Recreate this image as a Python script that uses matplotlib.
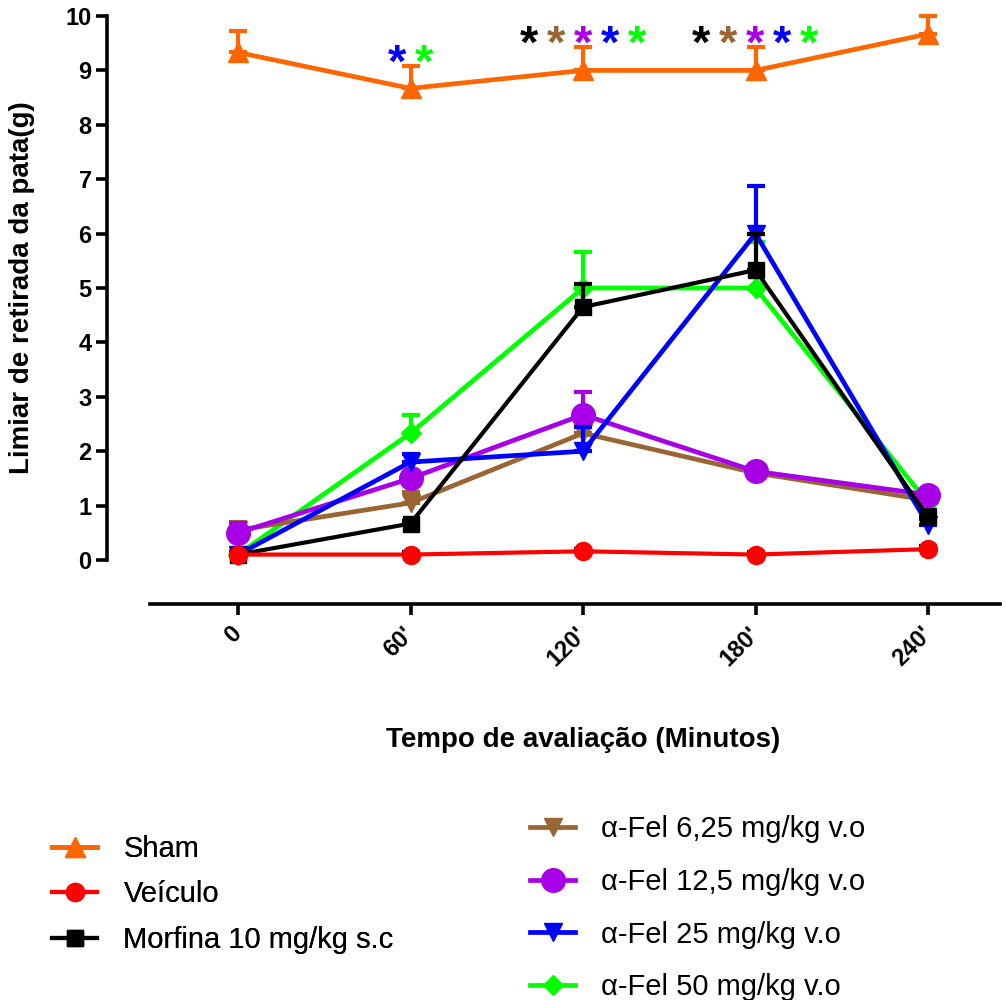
import matplotlib
matplotlib.use("Agg")
import matplotlib.pyplot as plt
import numpy as np

plt.rcParams['font.family'] = ['Liberation Sans', 'DejaVu Sans']

# tempos de avaliacao (minutos)
times = [0, 60, 120, 180, 240]
tick_labels = ["0", "60'", "120'", "180'", "240'"]

# medias e erro (so a parte de cima)
sham = [9.33, 8.67, 9.0, 9.0, 9.67]
sham_err = [0.40, 0.41, 0.43, 0.43, 0.33]
veiculo = [0.10, 0.10, 0.16, 0.10, 0.20]
veiculo_err = [0.05, 0.05, 0.05, 0.05, 0.05]
morfina = [0.10, 0.67, 4.65, 5.33, 0.79]
morfina_err = [0.05, 0.05, 0.42, 0.67, 0.12]
fel_625 = [0.55, 1.05, 2.33, 1.60, 1.10]
fel_625_err = [0.15, 0.20, 0.33, 0.10, 0.08]
fel_125 = [0.50, 1.50, 2.67, 1.63, 1.20]
fel_125_err = [0.18, 0.10, 0.42, 0.08, 0.05]
fel_25 = [0.10, 1.80, 2.00, 6.00, 0.65]
fel_25_err = [0.05, 0.15, 0.45, 0.88, 0.10]
fel_50 = [0.10, 2.33, 5.00, 5.00, 1.05]
fel_50_err = [0.05, 0.33, 0.67, 0.85, 0.08]

names = ["Sham", "Veículo", "Morfina 10 mg/kg s.c",
         "α-Fel 6,25 mg/kg v.o", "α-Fel 12,5 mg/kg v.o",
         "α-Fel 25 mg/kg v.o", "α-Fel 50 mg/kg v.o"]

# asteriscos (cores dos grupos significativos) por tempo
stars = {60: ['#0000FF', '#00FF00'],
         120: ['black', '#996633', '#A800E6', '#0000FF', '#00FF00'],
         180: ['black', '#996633', '#A800E6', '#0000FF', '#00FF00']}

fig = plt.figure(figsize=(10.07, 10), dpi=100)
ax = fig.add_axes([107 / 1007, 0.44, (1000 - 107) / 1007, 0.544])

series = [
    # vals, err, color, errcolor, marker, ms, lw, zorder
    (fel_50, fel_50_err, '#00FF00', '#00FF00', 'D', 10, 3.4, 3),
    (fel_625, fel_625_err, '#996633', '#996633', 'v', 13, 3.4, 4),
    (fel_125, fel_125_err, '#A800E6', '#A800E6', 'o', 17, 3.4, 5),
    (fel_25, fel_25_err, '#0000FF', '#0000FF', 'v', 13, 3.4, 6),
    (morfina, morfina_err, 'black', 'black', 's', 12, 3.0, 7),
    (veiculo, veiculo_err, '#FF0000', 'black', 'o', 13, 3.0, 8),
    (sham, sham_err, '#FF6600', '#FF6600', '^', 14, 3.4, 9),
]
handles = {}
for i, (vals, err, c, ec, m, ms, lw, z) in enumerate(series):
    eb = ax.errorbar(times, vals, yerr=[np.zeros(len(err)), err], color=c,
                     ecolor=ec, marker=m, ms=ms, lw=lw, elinewidth=3,
                     capsize=6.5, capthick=3, zorder=z, clip_on=False)
    for art in [eb[0]] + list(eb[1]) + list(eb[2]):
        art.set_clip_on(False)
    handles[c] = eb[0]

# asteriscos acima do Sham
step = 9.4
for t, cols in stars.items():
    i = times.index(t)
    y = sham[i] + sham_err[i] - 0.2
    n = len(cols)
    for k, c in enumerate(cols):
        ax.text(t + (k - (n - 1) / 2) * step, y, "*", color=c, fontsize=34,
                fontweight='bold', ha='center', va='baseline')

ax.set_xlim(-45.57, 265.04)
ax.set_ylim(0, 10)
ax.set_yticks(range(0, 11))
ax.spines['top'].set_visible(False)
ax.spines['right'].set_visible(False)
ax.spines['left'].set_linewidth(2.6)
ax.spines['bottom'].set_linewidth(2.6)
ax.spines['bottom'].set_position(('outward', 31.7))
ax.spines['bottom'].set_bounds(-30.6, 265.04)
ax.tick_params(axis='y', length=8, width=2.6, labelsize=17, pad=3)
ax.tick_params(axis='x', length=8, width=2.6, labelsize=17, pad=11)
ax.set_xticks(times)
ax.set_xticklabels(tick_labels, rotation=45, ha='right', va='center',
                   rotation_mode='anchor', fontweight='bold')
for lab in ax.get_yticklabels():
    lab.set_fontweight('bold')

ax.set_ylabel("Limiar de retirada da pata(g)", fontsize=20, fontweight='bold')
ax.yaxis.set_label_coords(-0.081, 0.5)
fig.text(583 / 1007, 1 - 740 / 1000, "Tempo de avaliação (Minutos)",
         fontsize=20, fontweight='bold', ha='center', va='center')

order = ['#FF6600', '#FF0000', 'black', '#996633', '#A800E6', '#0000FF', '#00FF00']
hl = [handles[c] for c in order]
leg1 = fig.legend(hl[:3], names[:3], loc='upper left',
                  bbox_to_anchor=(52 / 1007, 1 - 835 / 1000), frameon=False,
                  fontsize=21, handlelength=1.55, handletextpad=0.9,
                  labelspacing=0.6, borderpad=0, borderaxespad=0, numpoints=1)
fig.add_artist(leg1)
fig.legend(hl[3:], names[3:], loc='upper left',
           bbox_to_anchor=(530 / 1007, 1 - 815 / 1000), frameon=False,
           fontsize=21, handlelength=1.55, handletextpad=0.9,
           labelspacing=0.85, borderpad=0, borderaxespad=0, numpoints=1)

fig.savefig("out.png", dpi=100)
